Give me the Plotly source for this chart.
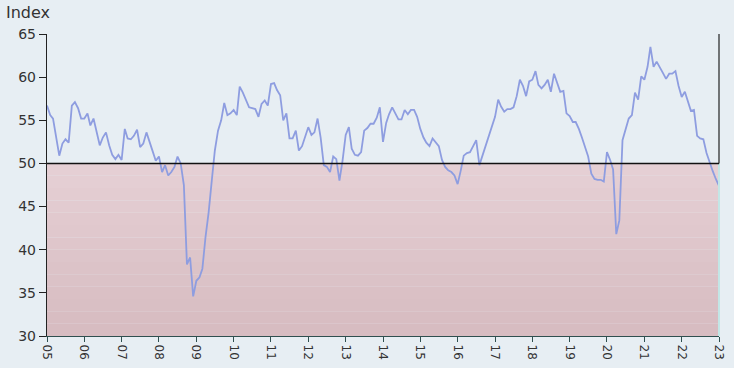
import plotly.graph_objects as go
import pandas as pd

values = [
    56.7, 55.6, 55.2, 53.0, 50.9, 52.3, 52.8, 52.4, 56.7, 57.1, 56.4, 55.2,
    55.2, 55.8, 54.4, 55.2, 53.5, 52.1, 53.0, 53.6, 52.1, 51.0, 50.5, 51.0,
    50.4, 54.0, 52.9, 52.8, 53.2, 53.9, 51.9, 52.3, 53.6, 52.6, 51.4, 50.3,
    50.8, 49.0, 49.8, 48.6, 49.0, 49.6, 50.8, 50.0, 47.5, 38.3, 39.1, 34.6,
    36.4, 36.8, 37.8, 41.5, 44.3, 48.0, 51.5, 53.8, 55.0, 57.0, 55.6, 55.8,
    56.2, 55.6, 58.9, 58.2, 57.4, 56.5, 56.4, 56.3, 55.4, 56.9, 57.3, 56.7,
    59.2, 59.3, 58.5, 57.9, 55.0, 55.8, 52.9, 52.9, 53.8, 51.5, 52.0, 53.2,
    54.2, 53.3, 53.6, 55.2, 53.0, 49.8, 49.6, 49.0, 50.8, 50.5, 48.0, 50.3,
    53.3, 54.2, 51.7, 51.0, 50.9, 51.3, 53.8, 54.1, 54.6, 54.6, 55.3, 56.5,
    52.5, 54.7, 55.7, 56.5, 55.8, 55.1, 55.1, 56.2, 55.7, 56.2, 56.2, 55.4,
    54.0, 53.0, 52.4, 52.0, 52.9, 52.4, 52.0, 50.4, 49.6, 49.2, 49.0, 48.6,
    47.6, 49.2, 50.9, 51.2, 51.3, 52.0, 52.7, 49.8, 50.9, 51.9, 53.2, 54.3,
    55.4, 57.4, 56.6, 56.0, 56.3, 56.3, 56.5, 57.8, 59.7, 59.0, 57.8, 59.5,
    59.7, 60.7, 59.1, 58.7, 59.1, 59.7, 58.3, 60.4, 59.4, 58.3, 58.4, 55.8,
    55.5, 54.8, 54.8, 54.0, 53.0, 52.0, 50.8, 48.8, 48.2, 48.1, 48.1, 47.9,
    51.3, 50.4, 49.3, 41.8, 43.4, 52.7, 53.8, 55.2, 55.6, 58.2, 57.4, 60.1,
    59.7, 61.2, 63.5, 61.2, 61.8, 61.2, 60.5, 59.8, 60.4, 60.4, 60.7, 59.0,
    57.7, 58.3, 57.3, 56.1, 56.2, 53.2, 52.9, 52.8, 51.2, 50.1, 49.1, 48.2,
    47.4,
]
dates = pd.date_range("2005-01-01", periods=len(values), freq="MS")
y_ticks = [30, 35, 40, 45, 50, 55, 60, 65]
threshold = 50

fig = go.Figure()
fig.add_trace(go.Scatter(x=dates, y=values, mode="lines",
                         line=dict(color="#8e9de0", width=1.8),
                         hoverinfo="skip", showlegend=False))

# pink gradient band below threshold
n_bands = 14
top_c = (229, 207, 212)
bot_c = (215, 188, 193)
for k in range(n_bands):
    t = k / (n_bands - 1)
    c = tuple(int(round(top_c[j] + (bot_c[j] - top_c[j]) * t)) for j in range(3))
    y1 = threshold - (threshold - 30) * k / n_bands
    y0 = threshold - (threshold - 30) * (k + 1) / n_bands
    fig.add_shape(type="rect", xref="paper", yref="y", x0=0, x1=1, y0=y0, y1=y1,
                  fillcolor="rgb(%d,%d,%d)" % c, line=dict(width=0), layer="below")
# teal edge on right of pink region
fig.add_shape(type="line", xref="paper", yref="y", x0=1, x1=1, y0=30, y1=threshold,
              line=dict(color="#c3e6e6", width=2))
# right border above threshold
fig.add_shape(type="line", xref="paper", yref="y", x0=1, x1=1, y0=threshold, y1=65,
              line=dict(color="#222222", width=1.2))
# threshold line
fig.add_shape(type="line", xref="paper", yref="y", x0=0, x1=1, y0=threshold, y1=threshold,
              line=dict(color="#111111", width=1.4))

fig.update_layout(
    width=734, height=368,
    margin=dict(l=47, r=8, t=34, b=28),
    paper_bgcolor="#e7eef3", plot_bgcolor="#e7eef3",
    font=dict(family="DejaVu Sans", size=14, color="#333333"),
    showlegend=False,
)
fig.update_xaxes(
    type="date", range=[dates[0], pd.Timestamp("2023-01-01")],
    dtick="M12", tick0="2005-01-01", tickformat="%y", tickangle=90,
    showgrid=False, zeroline=False, showline=True, linecolor="#2f4f4f", linewidth=1.2,
    ticks="outside", ticklen=5, tickcolor="#2f4f4f",
    tickfont=dict(size=12, color="#333333"),
)
fig.update_yaxes(
    range=[30, 65], tickvals=y_ticks, showgrid=False, zeroline=False,
    showline=True, linecolor="#222222", linewidth=1.2,
    ticks="outside", ticklen=7, tickcolor="#222222",
    tickfont=dict(size=14, color="#333333"),
)
fig.add_annotation(text="Index", xref="paper", yref="paper", x=-0.064, y=1.0,
                   xanchor="left", yanchor="bottom", yshift=10, showarrow=False,
                   font=dict(size=16, color="#333333"))

fig.write_html(
    "out.html",
    config={"displayModeBar": False, "staticPlot": True},
    post_script=(
        "var h=document.documentElement,b=document.body;"
        "h.style.margin='0';h.style.padding='0';h.style.overflow='hidden';"
        "b.style.margin='0';b.style.padding='0';b.style.overflow='hidden';"
        "b.style.background='#e7eef3';"
    ),
)
